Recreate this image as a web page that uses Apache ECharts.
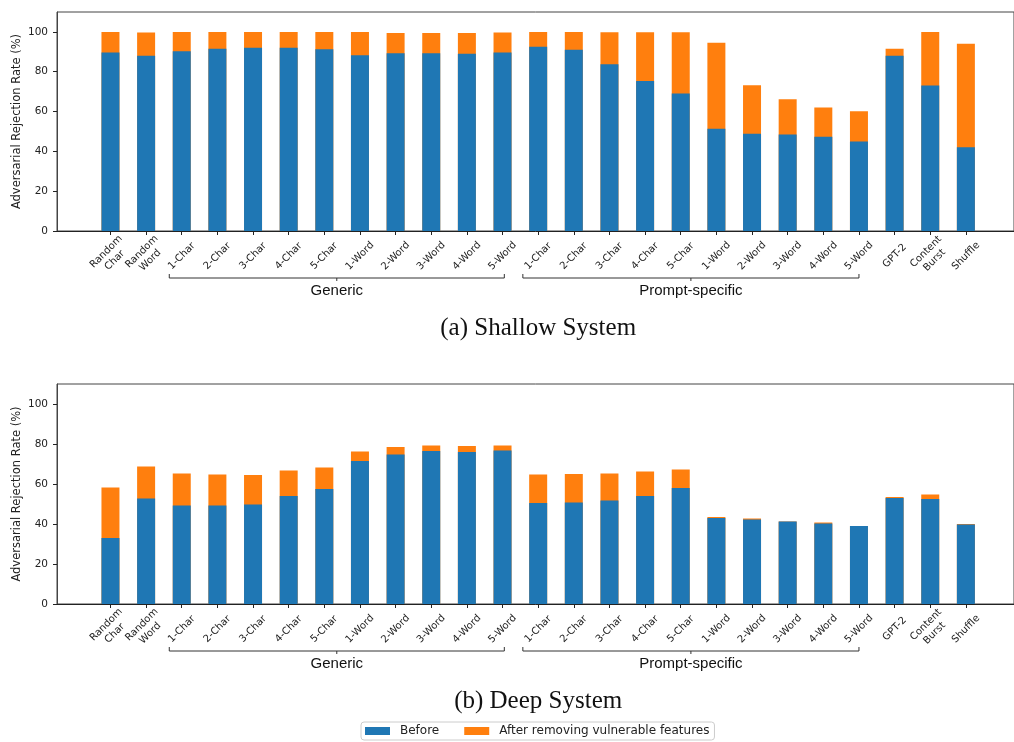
<!DOCTYPE html>
<html>
<head>
<meta charset="utf-8">
<script src="https://cdn.jsdelivr.net/npm/echarts@6/dist/echarts.min.js"></script>
<style>
  html, body { margin: 0; padding: 0; background: #fff; }
  #chart { width: 1014px; height: 742px; }
</style>
</head>
<body>
<div id="chart"></div>
<script>
// categories along x (same for both panels)
var categories = ['Random\nChar', 'Random\nWord',
  '1-Char', '2-Char', '3-Char', '4-Char', '5-Char', '1-Word', '2-Word', '3-Word', '4-Word', '5-Word',
  '1-Char', '2-Char', '3-Char', '4-Char', '5-Char', '1-Word', '2-Word', '3-Word', '4-Word', '5-Word',
  'GPT-2', 'Content\nBurst', 'Shuffle'];

// (a) shallow system
var shallowBefore = [89.6, 88.0, 90.3, 91.6, 92.0, 92.0, 91.3, 88.3, 89.3, 89.3, 89.0, 89.6,
  92.5, 91.0, 83.8, 75.4, 69.1, 51.3, 48.8, 48.5, 47.3, 45.0, 88.0, 73.1, 42.1];
var shallowAfter = [100, 99.7, 100, 100, 100, 100, 100, 100, 99.5, 99.5, 99.5, 99.7,
  100, 100, 99.8, 99.8, 99.8, 94.5, 73.2, 66.2, 62.0, 60.2, 91.5, 100, 94.1];

// (b) deep system
var deepBefore = [33.0, 52.7, 49.3, 49.3, 49.8, 54.0, 57.5, 71.5, 74.7, 76.5, 76.0, 76.7,
  50.5, 50.8, 51.8, 54.0, 58.0, 43.0, 42.3, 41.3, 40.2, 39.0, 53.0, 52.5, 39.7];
var deepAfter = [58.3, 68.7, 65.2, 64.8, 64.5, 66.7, 68.3, 76.3, 78.5, 79.2, 79.0, 79.3,
  64.8, 65.0, 65.3, 66.2, 67.3, 43.5, 42.7, 41.3, 40.8, 39.0, 53.5, 54.8, 40.0];

var yTicks = [0, 20, 40, 60, 80, 100];
var groups = [
  { name: 'Generic', from: 1.65, to: 11.05 },
  { name: 'Prompt-specific', from: 11.57, to: 21.0 }
];
var captions = ['(a) Shallow System', '(b) Deep System'];
var seriesNames = ['Before', 'After removing vulnerable features'];

var BLUE = '#1f77b4', ORANGE = '#ff7f0e', INK = '#222';
var panels = [
  { top: 12, height: 219, before: shallowBefore, after: shallowAfter },
  { top: 384, height: 220, before: deepBefore, after: deepAfter }
];

var chart = echarts.init(document.getElementById('chart'));

function pairs(arr) {
  return arr.map(function (v, i) { return [i, v]; });
}

var catIdx = categories.map(function (c, i) { return i; });
var grid = [], xAxis = [], yAxis = [], series = [];

panels.forEach(function (p, k) {
  grid.push({
    left: 57, width: 963, top: p.top, height: p.height,
    show: true, borderColor: '#444', borderWidth: 1, backgroundColor: 'transparent'
  });
  xAxis.push({
    type: 'value', gridIndex: k, min: -1.5, max: 25.35,
    splitLine: { show: false },
    axisLine: { show: true, onZero: false, lineStyle: { color: INK, width: 1 } },
    axisTick: { show: true, customValues: catIdx, length: 4, lineStyle: { color: INK } },
    axisLabel: {
      customValues: catIdx,
      formatter: function (v) { return categories[v] || ''; },
      rotate: 45, align: 'center', verticalAlign: 'middle', margin: 25,
      fontFamily: 'DejaVu Sans', fontSize: 10, lineHeight: 12, color: INK
    }
  });
  yAxis.push({
    type: 'value', gridIndex: k, min: 0, max: 110,
    name: 'Adversarial Rejection Rate (%)', nameLocation: 'middle', nameGap: 34,
    nameMoveOverlap: false,
    nameTextStyle: { fontFamily: 'DejaVu Sans', fontSize: 11.5, color: INK },
    splitLine: { show: false },
    axisLine: { show: true, onZero: false, lineStyle: { color: '#444', width: 1 } },
    axisTick: { show: true, customValues: yTicks, length: 4, lineStyle: { color: INK } },
    axisLabel: {
      customValues: yTicks, margin: 9,
      fontFamily: 'DejaVu Sans', fontSize: 10.5, color: INK
    }
  });
  series.push({
    name: seriesNames[1], type: 'bar', xAxisIndex: k, yAxisIndex: k,
    data: pairs(p.after), barWidth: 18, itemStyle: { color: ORANGE }
  });
  series.push({
    name: seriesNames[0], type: 'bar', xAxisIndex: k, yAxisIndex: k,
    data: pairs(p.before), barWidth: 18, barGap: '-100%', itemStyle: { color: BLUE }
  });
});

chart.setOption({
  animation: false,
  grid: grid, xAxis: xAxis, yAxis: yAxis, series: series,
  legend: {
    data: seriesNames, left: 361, top: 722,
    icon: 'rect', itemWidth: 25, itemHeight: 8, itemGap: 25,
    padding: [3, 5, 3, 4],
    borderColor: '#ccc', borderWidth: 1, borderRadius: 3,
    textStyle: { fontFamily: 'DejaVu Sans', fontSize: 12, color: INK, padding: [0, 0, 0, 5] }
  }
});

// group brackets and captions, placed through the axes
var graphics = [];
panels.forEach(function (p, k) {
  var px = function (x) { return chart.convertToPixel({ xAxisIndex: k, yAxisIndex: k }, [x, 0]); };
  var base = px(0)[1];
  var by = base + 47;
  groups.forEach(function (g) {
    var x1 = px(g.from)[0], x2 = px(g.to)[0], xm = (x1 + x2) / 2;
    graphics.push({
      type: 'polyline',
      shape: { points: [[x1, by - 4], [x1, by], [x2, by], [x2, by - 4]] },
      style: { stroke: '#333', lineWidth: 1, fill: null }
    });
    graphics.push({
      type: 'line', shape: { x1: xm, y1: by, x2: xm, y2: by + 3 },
      style: { stroke: '#333', lineWidth: 1 }
    });
    graphics.push({
      type: 'text', x: xm, y: base + 60,
      style: { text: g.name, fontFamily: 'Liberation Sans', fontSize: 15, fill: '#111',
        align: 'center', verticalAlign: 'middle' }
    });
  });
  graphics.push({
    type: 'text', x: px(12)[0], y: base + 97,
    style: { text: captions[k], fontFamily: 'Liberation Serif', fontSize: 25, fill: '#111',
      align: 'center', verticalAlign: 'middle' }
  });
});
chart.setOption({ graphic: graphics });
</script>
</body>
</html>
